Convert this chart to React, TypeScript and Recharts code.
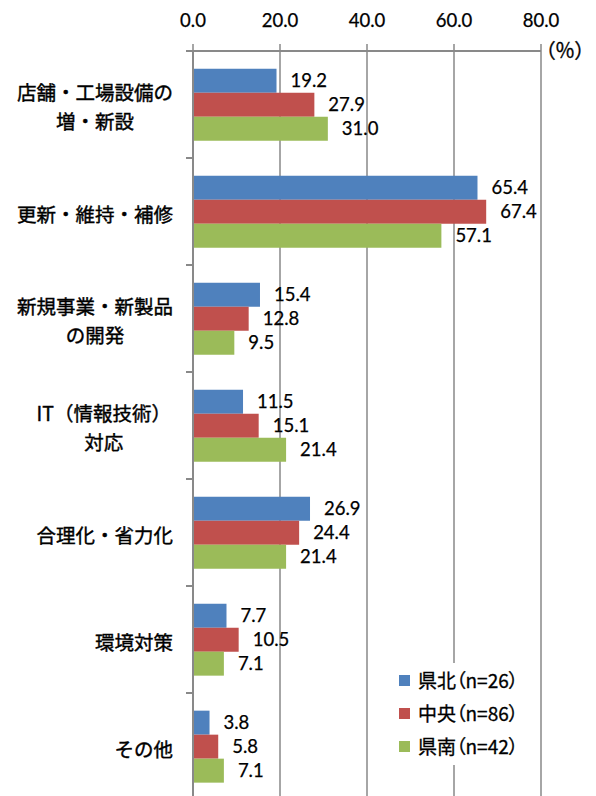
import React from "react";
import { BarChart, Bar, XAxis, YAxis, CartesianGrid, LabelList } from "recharts";

const categories = [
  "店舗・工場設備の\n増・新設",
  "更新・維持・補修",
  "新規事業・新製品\nの開発",
  "IT（情報技術）\n対応",
  "合理化・省力化",
  "環境対策",
  "その他",
];
const seriesNames = ["県北（n=26）", "中央（n=86）", "県南（n=42）"];
const kenpoku = [19.2, 65.4, 15.4, 11.5, 26.9, 7.7, 3.8];
const chuo = [27.9, 67.4, 12.8, 15.1, 24.4, 10.5, 5.8];
const kennan = [31.0, 57.1, 9.5, 21.4, 21.4, 7.1, 7.1];
const xTicks = [0, 20, 40, 60, 80];
const unitLabel = "（％）";
const colors = ["#4F81BD", "#C0504D", "#9BBB59"];

const W = 596;
const H = 800;
const TOP = 51;
const LEFT = 193;
const RIGHT = 55;
const BAND = (H - TOP) / categories.length;

const NUM_FONT = "Lato, 'Noto Sans CJK JP', sans-serif";
const JP_FONT = "'Noto Sans CJK JP', sans-serif";
const GRAY = "#898989";

const data = categories.map((name, i) => ({
  name,
  s0: kenpoku[i],
  s1: chuo[i],
  s2: kennan[i],
}));

function textWidth(s: string, fs: number) {
  let w = 0;
  for (const ch of s) w += ch.charCodeAt(0) < 0x2000 ? fs * 0.55 : fs;
  return w;
}

function CategoryTick(props: any) {
  const { x, y, payload } = props;
  const lines = String(payload.value).split("\n");
  const fs = 19.5;
  const lh = 29;
  const maxW = Math.max(...lines.map((l) => textWidth(l, fs)));
  const multi = lines.length > 1;
  const cx = multi ? x - maxW / 2 : x;
  return (
    <g>
      <line x1={x + 13} x2={x + 20} y1={y - BAND / 2} y2={y - BAND / 2} stroke={GRAY} strokeWidth={2} />
      <line x1={x + 13} x2={x + 20} y1={y + BAND / 2} y2={y + BAND / 2} stroke={GRAY} strokeWidth={2} />
      <text
        fontSize={fs}
        fill="#000"
        stroke="#000"
        strokeWidth={0.4}
        fontFamily={JP_FONT}
        textAnchor={multi ? "middle" : "end"}
        dominantBaseline="central"
      >
        {lines.map((l, i) => (
          <tspan key={i} x={cx} y={y + 1 + (i - (lines.length - 1) / 2) * lh}>
            {l}
          </tspan>
        ))}
      </text>
    </g>
  );
}

const fmt = (v: any) => Number(v).toFixed(1);
const keys = ["s0", "s1", "s2"];

export default function App() {
  return (
    <div
      style={{
        position: "absolute",
        left: 0,
        top: 0,
        width: W,
        height: 796,
        overflow: "hidden",
        background: "#fff",
      }}
    >
      <BarChart
        width={W}
        height={H}
        data={data}
        layout="vertical"
        margin={{ top: 0, right: RIGHT, left: 0, bottom: 0 }}
        barCategoryGap="16.5%"
        barGap={0}
      >
        <CartesianGrid horizontal={false} stroke={GRAY} strokeWidth={1.5} />
        <XAxis
          type="number"
          orientation="top"
          domain={[0, 80]}
          ticks={xTicks}
          interval={0}
          tickFormatter={fmt}
          height={TOP}
          axisLine={{ stroke: GRAY, strokeWidth: 2 }}
          tickLine={{ stroke: GRAY, strokeWidth: 1.5 }}
          tickSize={7}
          tickMargin={17}
          tick={{ fontSize: 18.5, fill: "#000", fontFamily: NUM_FONT, stroke: "#000", strokeWidth: 0.25 }}
        />
        <YAxis
          type="category"
          dataKey="name"
          width={LEFT}
          axisLine={{ stroke: GRAY, strokeWidth: 2 }}
          tickLine={false}
          tickSize={7}
          tickMargin={13}
          interval={0}
          tick={<CategoryTick />}
        />
        {keys.map((k, i) => (
          <Bar key={k} dataKey={k} name={seriesNames[i]} fill={colors[i]} isAnimationActive={false}>
            <LabelList
              dataKey={k}
              position="right"
              offset={14}
              formatter={fmt}
              fill="#000"
              stroke="#000"
              strokeWidth={0.25}
              fontSize={18.5}
              fontFamily={NUM_FONT}
            />
          </Bar>
        ))}
      </BarChart>
      <div
        style={{
          position: "absolute",
          left: 545,
          top: 37,
          fontFamily: JP_FONT,
          fontSize: 20,
          lineHeight: "26px",
          color: "#000",
          whiteSpace: "nowrap",
          fontFeatureSettings: '"palt"',
          WebkitTextStroke: "0.3px #000",
        }}
      >
        {unitLabel}
      </div>
      <div
        style={{
          position: "absolute",
          left: 395,
          top: 663,
          width: 135,
          height: 102,
          background: "#fff",
        }}
      >
        {seriesNames.map((n, i) => (
          <div
            key={n}
            style={{
              position: "absolute",
              left: 0,
              top: 4 + i * 33,
              height: 26,
              display: "flex",
              alignItems: "center",
              whiteSpace: "nowrap",
            }}
          >
            <div style={{ width: 11, height: 11, background: colors[i], marginLeft: 4, marginRight: 8 }} />
            <span
              style={{
                fontFamily: JP_FONT,
                fontSize: 19,
                color: "#000",
                fontFeatureSettings: '"palt"',
                lineHeight: "26px",
                WebkitTextStroke: "0.3px #000",
              }}
            >
              {n}
            </span>
          </div>
        ))}
      </div>
    </div>
  );
}
